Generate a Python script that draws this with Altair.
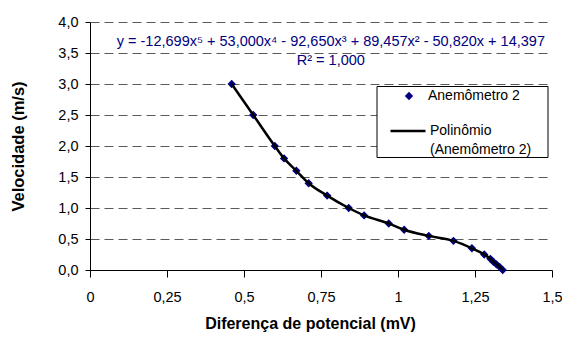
import altair as alt
import pandas as pd

# data
ddp = [0.46, 0.53, 0.60, 0.63, 0.67, 0.71, 0.77, 0.84, 0.89, 0.97, 1.02, 1.10,
       1.18, 1.24, 1.28, 1.30, 1.31, 1.32, 1.33, 1.34]
vel = [3.00, 2.50, 2.00, 1.80, 1.60, 1.40, 1.20, 1.00, 0.88, 0.75, 0.65, 0.55,
       0.47, 0.35, 0.25, 0.18, 0.13, 0.09, 0.05, 0.00]
serie_pontos = "Anemômetro 2"
serie_linha = "Polinômio"
serie_linha_2 = "(Anemômetro 2)"
x_ticks = [0, 0.25, 0.5, 0.75, 1.0, 1.25, 1.5]
y_ticks = [0, 0.5, 1.0, 1.5, 2.0, 2.5, 3.0, 3.5, 4.0]
eq_texto = ["y = -12,699x⁵ + 53,000x⁴ - 92,650x³ + 89,457x² - 50,820x + 14,397", "R² = 1,000"]
eq_x = [0.782, 0.782]
eq_y = [3.68, 3.37]

FONT = "Liberation Sans"
NAVY = "#000080"

df = pd.DataFrame({"ddp": ddp, "vel": vel, "s1": serie_pontos, "s2": serie_linha})
df_eq = pd.DataFrame({"ddp": eq_x, "vel": eq_y, "t": eq_texto})

x_enc = alt.X("ddp:Q", scale=alt.Scale(domain=[0, 1.5], nice=False),
              axis=alt.Axis(values=x_ticks, title="Diferença de potencial  (mV)",
                            format=".2~f", labelFlush=False,
                            labelExpr="replace(datum.label, '.', ',')", grid=False,
                            tickSize=7, labelPadding=13, titlePadding=12, titleX=220,
                            titleFontSize=16))
y_enc = alt.Y("vel:Q", scale=alt.Scale(domain=[0, 4], nice=False),
              axis=alt.Axis(values=y_ticks, title="Velocidade (m/s)", format=".1f",
                            labelFlush=False,
                            labelExpr="replace(datum.label, '.', ',')", grid=True,
                            gridDash=[9, 5], gridColor="#5a5a5a", gridWidth=1,
                            tickSize=5, labelPadding=7, titlePadding=31))

box = alt.Chart(pd.DataFrame({"a": [0]})).mark_rect(
    fill="white", stroke="black", strokeWidth=1
).encode(x=alt.value(287), x2=alt.value(458), y=alt.value(64.5), y2=alt.value(135.5))

legenda_txt = alt.Chart(pd.DataFrame({"t": [serie_linha_2]})).mark_text(
    font=FONT, fontSize=14, color="black", align="left", baseline="middle"
).encode(x=alt.value(340), y=alt.value(127.5), text="t:N")

pontos = alt.Chart(df).mark_point(shape="diamond", filled=True, size=70, opacity=1).encode(
    x=x_enc, y=y_enc,
    color=alt.Color("s1:N", scale=alt.Scale(domain=[serie_pontos], range=[NAVY]),
                    legend=alt.Legend(orient="none", legendX=312, legendY=67, title=None,
                                      symbolType="diamond", symbolSize=70, labelOffset=12,
                                      labelFontSize=14, labelFont=FONT, labelColor="black")),
)

linha = alt.Chart(df).mark_line(interpolate="monotone", strokeWidth=2.5).encode(
    x=x_enc, y=y_enc,
    stroke=alt.Stroke("s2:N", scale=alt.Scale(domain=[serie_linha], range=["black"]),
                      legend=alt.Legend(orient="none", legendX=299, legendY=90, title=None,
                                        symbolType="stroke", symbolSize=1225,
                                        symbolStrokeWidth=2.5, labelOffset=3,
                                        labelFontSize=14, labelFont=FONT, labelColor="black")),
)

equacao = alt.Chart(df_eq).mark_text(font=FONT, fontSize=14.5, color=NAVY, align="center",
                                     baseline="middle").encode(
    x=x_enc, y=y_enc, text="t:N")

chart = alt.layer(box, pontos, linha, equacao, legenda_txt).resolve_scale(color="independent").properties(
    width=462, height=248, autosize="none",
    padding={"left": 82, "top": 14, "right": 10, "bottom": 64},
    background="white",
).configure_view(stroke=None).configure_axis(
    domainColor="black", tickColor="black", labelFont=FONT, labelFontSize=14.5,
    labelColor="black", titleFont=FONT, titleFontSize=16.5, titleFontWeight="bold",
    titleColor="black", domainWidth=1, tickWidth=1
)

chart.save("out.html", embed_options={"renderer": "svg", "actions": False})
